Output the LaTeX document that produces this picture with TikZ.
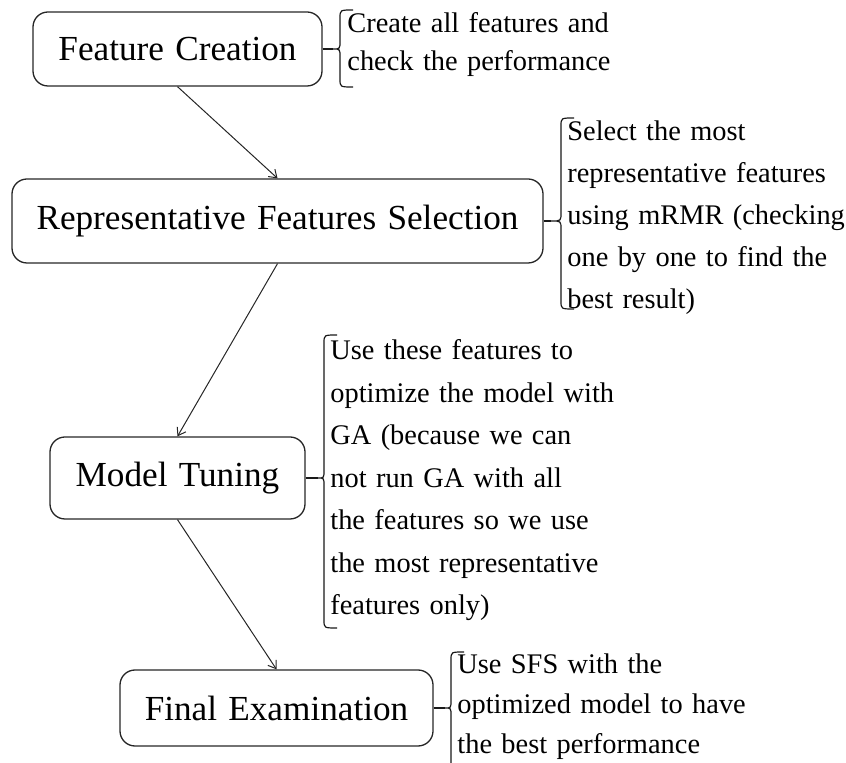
\documentclass[tikz,border=0pt]{standalone}
\usepackage{fontspec}
\setmainfont{Liberation Serif}
\usetikzlibrary{arrows.meta}

% type sizes with slightly wider word spacing
\newcommand{\stagefont}{\fontsize{17.6}{21}\selectfont\setlength{\spaceskip}{0.32em}}
\newcommand{\notetext}[2]{%
  {\fontsize{14.2}{#1}\selectfont\setlength{\spaceskip}{0.33em}%
  \begin{tabular}[t]{@{}l@{}}#2\end{tabular}}}

% one unit = one pixel of an 846 x 763 canvas, y grows downwards
\tikzset{
  x=0.5pt, y=-0.5pt,
  stage/.style={draw=black!85, line width=0.65pt, rounded corners=7.5pt,
    inner sep=0pt, font=\stagefont},
  note/.style={anchor=base west, inner sep=0pt},
  flow/.style={draw=black!85, line width=0.5pt,
    -{Straight Barb[length=3.6pt,width=5pt]}},
  bracestyle/.style={draw=black!90, line width=0.6pt},
  link/.style={draw=black!90, line width=0.6pt}
}

% left curly brace: #1 spine x, #2 top y, #3 bottom y, #4 tip y, #5 tip depth
\newcommand{\sidebrace}[5]{%
  \draw[bracestyle] ({#1+13},#2) .. controls (#1,#2) .. (#1,{#2+8})
    -- (#1,{#4-8}) .. controls (#1,#4) .. ({#1-#5},#4)
    .. controls (#1,#4) .. (#1,{#4+8})
    -- (#1,{#3-8}) .. controls (#1,#3) .. ({#1+13},#3);}

\begin{document}
\begin{tikzpicture}
\useasboundingbox (0,0) rectangle (846,763);
\clip (0,0) rectangle (846,763);

% process stages
\node[stage, minimum width=144.5pt, minimum height=37pt] (fc) at (177.5,49)
  {Feature Creation};
\node[stage, minimum width=265.5pt, minimum height=42pt] (rfs) at (277.5,221)
  {Representative Features Selection};
\node[stage, minimum width=127.5pt, minimum height=41pt] (mt) at (177.5,478)
  {Model Tuning};
\node[stage, minimum width=156.5pt, minimum height=38pt] (fe) at (276.5,708)
  {Final Examination};

% flow between stages
\draw[flow] (fc.south) -- (rfs.north);
\draw[flow] (rfs.south) -- (mt.north);
\draw[flow] (mt.south) -- (fe.north);

% explanations with their braces
\coordinate (t1) at (333,49);
\sidebrace{340}{10}{87}{49}{7}
\draw[link] (fc.east) -- (t1);
\node[note] (n1) at (347,33)
  {\notetext{19pt}{Create all features and\\check the performance}};

\coordinate (t2) at (551,221);
\sidebrace{561}{118}{309}{221}{10}
\draw[link] (rfs.east) -- (t2);
\node[note] (n2) at (567,141)
  {\notetext{20.9pt}{Select the most\\representative features\\using mRMR (checking\\one by one to find the\\best result)}};

\coordinate (t3) at (318,478);
\sidebrace{324}{335}{628}{478}{6}
\draw[link] (mt.east) -- (t3);
\node[note] (n3) at (330,360)
  {\notetext{21.25pt}{Use these features to\\optimize the model with\\GA (because we can\\not run GA with all\\the features so we use\\the most representative\\features only)}};

\coordinate (t4) at (445,708);
\sidebrace{451}{652}{775}{708}{6}
\draw[link] (fe.east) -- (t4);
\node[note] (n4) at (457,674)
  {\notetext{20pt}{Use SFS with the\\optimized model to have\\the best performance}};
\end{tikzpicture}
\end{document}
